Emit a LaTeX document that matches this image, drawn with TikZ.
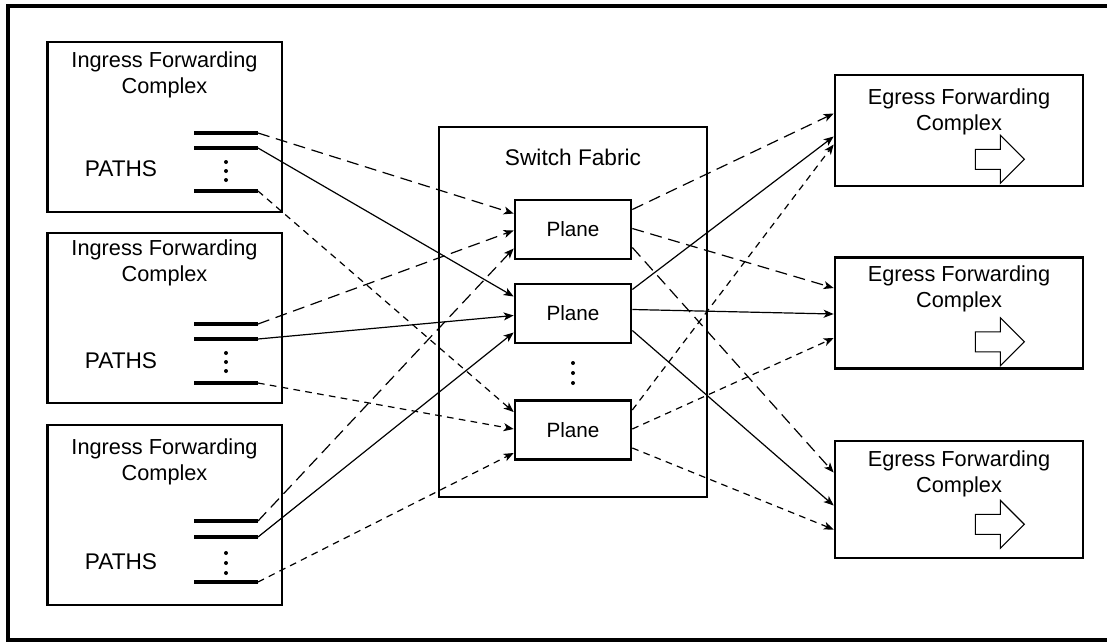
\documentclass[tikz,border=0pt]{standalone}
\usepackage{fontspec}
\setmainfont{Liberation Sans}
\usetikzlibrary{arrows.meta,calc}
\tikzset{
  box/.style={draw, line width=2pt, inner sep=0pt},
  ingress/.style={box, minimum width=176pt, minimum height=127.5pt},
  egress/.style={box, minimum width=186pt, minimum height=83.25pt},
  plane/.style={box, minimum width=87pt, minimum height=44.25pt, font=\fontsize{15.5}{18}\selectfont},
  lbl/.style={align=center, inner sep=0pt, font=\fontsize{16.3}{19.5}\selectfont},
  pathlbl/.style={inner sep=0pt, font=\fontsize{17}{20}\selectfont},
  bar/.style={line width=2.5pt},
  wire/.style={line width=0.9pt, -{Stealth[length=7.5pt,width=6pt,inset=2pt]}},
  longdash/.style={wire, dash pattern=on 9pt off 5pt},
  shortdash/.style={wire, dash pattern=on 5pt off 4pt},
}
% outlined arrow in the lower right of an egress box
\newcommand{\outarrow}[2]{\draw[line width=0.8pt] ($(#1.south east)+(-109,#2)$) -- ++(25,0) -- ++(0,-14) -- ++(24,24) -- ++(-24,24) -- ++(0,-14) -- ++(-25,0) -- cycle;}
\begin{document}
\begin{tikzpicture}[x=0.75pt,y=-0.75pt]
  \useasboundingbox (0,0) rectangle (1107,643);
  \draw[line width=3pt] (1107,6) -- (8,6) -- (8,640) -- (1107,640);

  % ingress side
  \node[ingress] (in1) at (164.5,127) {};
  \node[ingress] (in2) at (164.5,318) {};
  \node[ingress, minimum height=135pt] (in3) at (164.5,515) {};
  \node[lbl] (in1lbl) at (164.5,75) {Ingress Forwarding\\Complex};
  \node[lbl] (in2lbl) at (164.5,263) {Ingress Forwarding\\Complex};
  \node[lbl] (in3lbl) at (164.5,462) {Ingress Forwarding\\Complex};
  \node[pathlbl] (in1p) at (121,169) {PATHS};
  \node[pathlbl] (in2p) at (121,361) {PATHS};
  \node[pathlbl] (in3p) at (121,562) {PATHS};
  \coordinate (i1a) at (258,133); \coordinate (i1b) at (258,148); \coordinate (i1c) at (258,191);
  \coordinate (i2a) at (258,324); \coordinate (i2b) at (258,339); \coordinate (i2c) at (258,383);
  \coordinate (i3a) at (258,521); \coordinate (i3b) at (258,537); \coordinate (i3c) at (258,582);
  \foreach \p in {i1a,i1b,i1c,i2a,i2b,i2c,i3a,i3b,i3c}
    \draw[bar] (\p) -- ++(-64,0);
  \foreach \y in {162,171,180, 353,362,371, 553,563,573}
    \fill (226,\y) circle (1.5pt);

  % switch fabric
  \node[box, minimum width=201pt, minimum height=277.5pt] (sf) at (573,312) {};
  \node[lbl, font=\fontsize{17}{20}\selectfont] (sflbl) at (573,157) {Switch Fabric};
  \node[plane] (pl1) at (573,229.5) {Plane};
  \node[plane] (pl2) at (573,313.5) {Plane};
  \node[plane] (pl3) at (573,430) {Plane};
  \foreach \y in {363,373,383}
    \fill (573,\y) circle (1.5pt);

  % egress side
  \node[egress] (eg1) at (959,130.5) {};
  \node[egress] (eg2) at (959,313) {};
  \node[egress, minimum height=87.75pt] (eg3) at (959,499.5) {};
  \node[lbl] (eg1lbl) at (959,112) {Egress Forwarding\\Complex};
  \node[lbl] (eg2lbl) at (959,289) {Egress Forwarding\\Complex};
  \node[lbl] (eg3lbl) at (959,474) {Egress Forwarding\\Complex};
  \outarrow{eg1}{-38}
  \outarrow{eg2}{-38}
  \outarrow{eg3}{-45}

  % ingress to planes
  \draw[longdash] (i1a) -- ($(pl1.west)+(0,-16)$);
  \draw[longdash] (i2a) -- ($(pl1.west)+(0,1)$);
  \draw[longdash] (i3a) -- ($(pl1.west)+(0,19)$);
  \draw[wire] (i1b) -- ($(pl2.west)+(0,-17)$);
  \draw[wire] (i2b) -- ($(pl2.west)+(0,2)$);
  \draw[wire] (i3b) -- ($(pl2.west)+(0,19)$);
  \draw[shortdash] (i1c) -- ($(pl3.west)+(0,-18)$);
  \draw[shortdash] (i2c) -- ($(pl3.west)+(0,-1)$);
  \draw[shortdash] (i3c) -- ($(pl3.west)+(0,23)$);

  % planes to egress
  \draw[longdash] ($(pl1.east)+(0,-20)$) -- ($(eg1.west)+(0,-17)$);
  \draw[longdash] ($(pl1.east)+(0,-1)$) -- ($(eg2.west)+(0,-25)$);
  \draw[longdash] ($(pl1.east)+(0,18)$) -- ($(eg3.west)+(0,-27)$);
  \draw[wire] ($(pl2.east)+(0,-24)$) -- ($(eg1.west)+(0,6)$);
  \draw[wire] ($(pl2.east)+(0,-4)$) -- ($(eg2.west)+(0,1)$);
  \draw[wire] ($(pl2.east)+(0,17)$) -- ($(eg3.west)+(0,6)$);
  \draw[shortdash] ($(pl3.east)+(0,-20)$) -- ($(eg1.west)+(0,14)$);
  \draw[shortdash] ($(pl3.east)+(0,-1)$) -- ($(eg2.west)+(0,25)$);
  \draw[shortdash] ($(pl3.east)+(0,18)$) -- ($(eg3.west)+(0,30)$);
\end{tikzpicture}
\end{document}
